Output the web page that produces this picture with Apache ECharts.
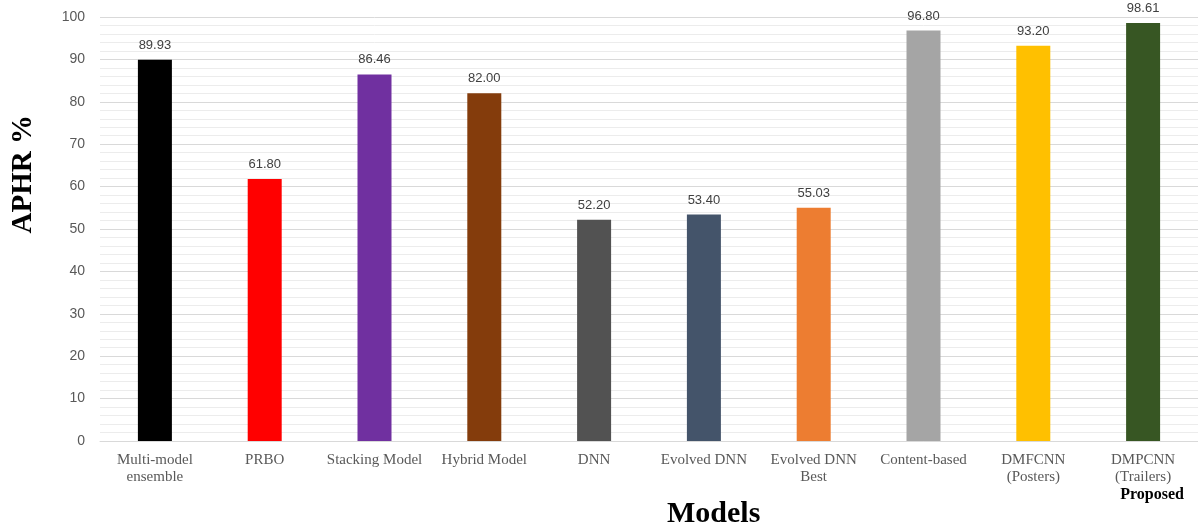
<!DOCTYPE html>
<html>
<head>
<meta charset="utf-8">
<script src="https://cdn.jsdelivr.net/npm/echarts@6/dist/echarts.min.js"></script>
<style>
  html, body { margin: 0; padding: 0; background: #ffffff; }
  #chart { width: 1198px; height: 531px; }
</style>
</head>
<body>
<div id="chart"></div>
<script>
// Model names on the category axis
const categories = [
  'Multi-model\nensemble',
  'PRBO',
  'Stacking Model',
  'Hybrid Model',
  'DNN',
  'Evolved DNN',
  'Evolved DNN\nBest',
  'Content-based',
  'DMFCNN\n(Posters)',
  'DMPCNN\n(Trailers)'
];

// APHR % for each model
const aphrValues = [89.93, 61.80, 86.46, 82.00, 52.20, 53.40, 55.03, 96.80, 93.20, 98.61];

// Bar fill for each model
const barColors = ['#000000', '#ff0000', '#7030a0', '#843c0c', '#525252', '#44546a', '#ed7d31', '#a5a5a5', '#ffc000', '#375623'];

// Category flagged as the proposed method
const proposedIndex = 9;
const proposedTag = 'Proposed';

const yTicks = [0, 10, 20, 30, 40, 50, 60, 70, 80, 90, 100];

const chart = echarts.init(document.getElementById('chart'), null, { renderer: 'canvas' });

const serif = '"Liberation Serif", "Times New Roman", serif';
const sans = '"Liberation Sans", Arial, sans-serif';

chart.setOption({
  animation: false,
  backgroundColor: '#ffffff',
  grid: { left: 100, right: 0, top: 17, bottom: 90, containLabel: false },
  xAxis: {
    type: 'category',
    data: categories,
    axisLine: { show: true, lineStyle: { color: '#d9d9d9', width: 1 } },
    axisTick: { show: false },
    axisLabel: {
      interval: 0,
      margin: 11,
      color: '#595959',
      fontFamily: serif,
      fontSize: 15,
      lineHeight: 17,
      formatter: function (value, idx) {
        if (idx === proposedIndex) {
          return value + '\n{p|' + proposedTag + '}';
        }
        return value;
      },
      rich: {
        p: { fontFamily: serif, fontSize: 16, fontWeight: 'bold', color: '#000000', lineHeight: 18, padding: [0, 0, 0, 18] }
      }
    }
  },
  yAxis: {
    type: 'value',
    min: yTicks[0],
    max: yTicks[yTicks.length - 1],
    interval: 10,
    axisLine: { show: false },
    axisTick: { show: false },
    axisLabel: { color: '#595959', fontFamily: sans, fontSize: 14, margin: 15 },
    splitLine: { show: true, lineStyle: { color: '#d9d9d9', width: 1 } },
    minorTick: { show: false, splitNumber: 5 },
    minorSplitLine: { show: true, lineStyle: { color: '#ececec', width: 1 } }
  },
  series: [{
    type: 'bar',
    data: aphrValues.map((v, i) => ({ value: v, itemStyle: { color: barColors[i] } })),
    barWidth: 34,
    label: {
      show: true,
      position: 'top',
      distance: 8,
      color: '#404040',
      fontFamily: sans,
      fontSize: 13,
      formatter: p => p.value.toFixed(2)
    }
  }],
  graphic: [
    {
      type: 'text',
      left: 9,
      top: 115,
      rotation: Math.PI / 2,
      style: {
        text: 'APHR %',
        font: 'bold 29px ' + serif,
        fill: '#000000'
      }
    },
    {
      type: 'text',
      left: 667,
      top: 499,
      style: {
        text: 'Models',
        font: 'bold 30px ' + serif,
        fill: '#000000'
      }
    }
  ]
});
</script>
</body>
</html>
